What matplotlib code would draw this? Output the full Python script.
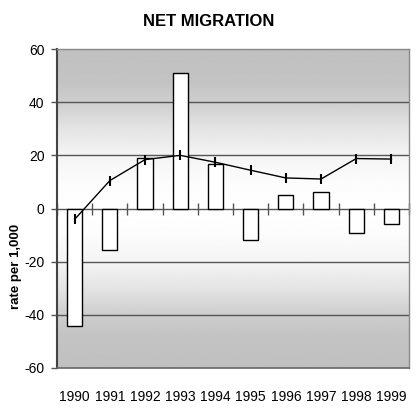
import numpy as np
import matplotlib
matplotlib.use("Agg")
import matplotlib.pyplot as plt

plt.rcParams['font.family'] = ['Liberation Sans', 'DejaVu Sans']

years = ["1990", "1991", "1992", "1993", "1994", "1995", "1996", "1997", "1998", "1999"]
bar_values = [-44.3, -15.6, 19.0, 50.9, 16.8, -12.0, 5.2, 6.2, -9.1, -6.0]
line_values = [-4.1, 10.5, 18.4, 20.0, 17.4, 14.4, 11.5, 11.1, 18.8, 18.6]
y_ticks = [-60, -40, -20, 0, 20, 40, 60]

fig = plt.figure(figsize=(4.17, 4.12), dpi=100)
ax = fig.add_axes([0.1367, 0.1068, 0.8443, 0.7742])

n = len(years)
x = np.arange(n)
ax.set_xlim(-0.5, n - 0.5)
ax.set_ylim(-60, 60)

# gradient background
yy = np.linspace(60, -60, 400)
a = np.abs(yy)
vals = np.interp(a, [0, 10, 20, 30, 40, 48, 60], [255, 252, 244, 228, 206, 195, 192]) / 255.0
img = np.repeat(vals[:, None], 2, axis=1)
ax.imshow(img, cmap='gray', vmin=0, vmax=1, extent=(-0.5, n - 0.5, -60, 60),
          aspect='auto', zorder=0, interpolation='bilinear')

for t in [-40, -20, 20, 40]:
    ax.axhline(t, color='#555555', lw=1.0, zorder=1)
ax.axhline(0, color='#555555', lw=1.0, zorder=1)

ax.bar(x, bar_values, width=0.43, color='white', edgecolor='black', linewidth=1.0, zorder=2)
ax.plot(x, line_values, color='black', lw=1.0, marker='|', markersize=7, markeredgewidth=1.5, zorder=3)

ax.set_yticks(y_ticks)
ax.set_yticklabels([str(t) for t in y_ticks], fontsize=10)
ax.tick_params(axis='y', direction='out', length=4, color='#555555', width=1, pad=5)

ax.set_xticks(x)
ax.set_xticklabels(years, fontsize=10)
ax.tick_params(axis='x', length=0, pad=16)

sec = ax.secondary_xaxis(0.5)
sec.set_xticks(np.arange(n + 1) - 0.5)
sec.set_xticklabels([])
sec.tick_params(axis='x', direction='inout', length=8, color='#555555', width=1)
sec.spines['bottom'].set_visible(False)
sec.spines['top'].set_visible(False)

for s in ['top', 'right']:
    ax.spines[s].set_color('#888888')
    ax.spines[s].set_linewidth(1.0)
ax.spines['bottom'].set_color('#666666')
ax.spines['bottom'].set_linewidth(1.2)
ax.spines['left'].set_color('#444444')
ax.spines['left'].set_linewidth(1.5)

ax.set_ylabel("rate per 1,000", fontsize=9.5, fontweight='bold')
ax.yaxis.set_label_coords(-0.10, 0.317)
fig.text(0.5, 0.947, "NET MIGRATION", ha='center', va='center', fontsize=12, fontweight='bold')

fig.savefig("out.png", dpi=100)
